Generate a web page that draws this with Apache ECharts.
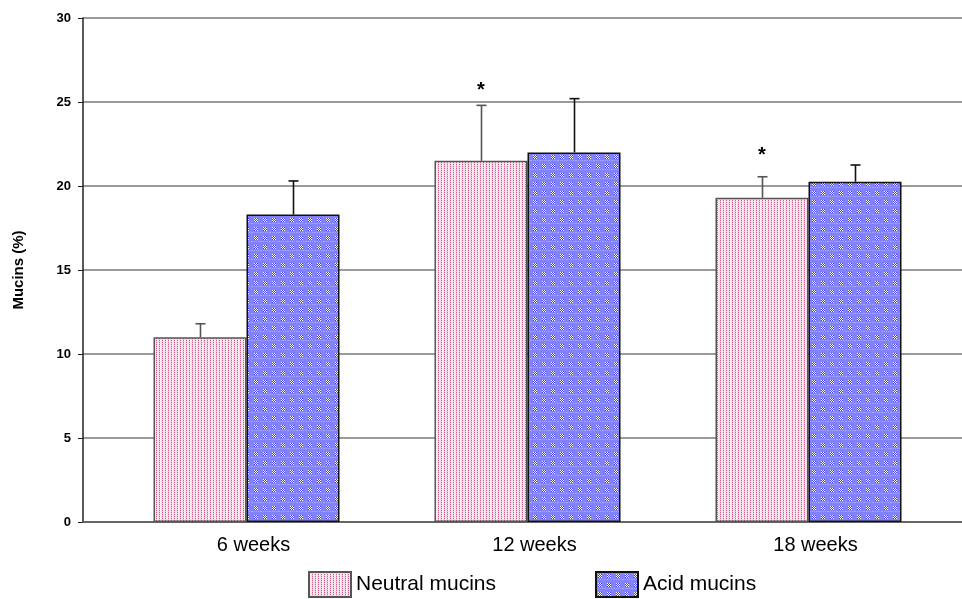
<!DOCTYPE html>
<html>
<head>
<meta charset="utf-8">
<script src="https://cdn.jsdelivr.net/npm/echarts@6/dist/echarts.min.js"></script>
<style>html,body{margin:0;padding:0;background:#fff}#c{width:962px;height:599px}</style>
</head>
<body>
<div id="c"></div>
<script>
const categories = ['6 weeks', '12 weeks', '18 weeks'];
const neutralMucins = [11.0, 21.5, 19.3];
const neutralErr = [0.8, 3.3, 1.25];
const acidMucins = [18.3, 22.0, 20.25];
const acidErr = [2.0, 3.2, 1.0];
const asteriskAt = [null, 25.7, 21.8];
const yTicks = [0, 5, 10, 15, 20, 25, 30];

function makePattern(w, h, draw) {
  const c = document.createElement('canvas');
  c.width = w; c.height = h;
  const ctx = c.getContext('2d');
  draw(ctx);
  return { image: c, repeat: 'repeat' };
}
const pinkPattern = makePattern(3, 2, ctx => {
  ctx.fillStyle = '#f9ecf2'; ctx.fillRect(0, 0, 3, 2);
  ctx.fillStyle = '#cc5a8a'; ctx.fillRect(0, 0, 1, 1);
  ctx.fillStyle = '#efcadb'; ctx.fillRect(0, 1, 1, 1);
  ctx.fillStyle = '#f3d8e4'; ctx.fillRect(2, 1, 1, 1);
});
const bluePattern = makePattern(9, 9, ctx => {
  ctx.fillStyle = '#8282ff'; ctx.fillRect(0, 0, 9, 9);
  for (let x = 0; x < 4; x++) for (let y = 0; y < 4; y++) {
    ctx.fillStyle = ((x + y) % 2 === 0) ? '#ffffff' : '#3a3aff';
    ctx.fillRect(x + 2, y + 2, 1, 1);
  }
  for (let x = 0; x < 9; x += 2) {
    ctx.fillStyle = '#a8a8ff'; ctx.fillRect(x, 7, 1, 1);
  }
});

const GAP = 0.338;
function errorSeries(values, errs, sign, color) {
  return {
    type: 'custom', xAxisIndex: 0, yAxisIndex: 0, z: 5,
    data: values.map((v, i) => [i, v, errs[i]]),
    encode: { x: 0, y: 1 },
    renderItem: function (params, api) {
      const idx = api.value(0), v = api.value(1), e = api.value(2);
      const p0 = api.coord([idx, v]);
      const p1 = api.coord([idx, v + e]);
      const band = api.size([1, 0])[0];
      const bw = band * (1 - GAP) / 2;
      const x = Math.round(p0[0] + sign * bw / 2) + 0.5;
      const st = { stroke: color, lineWidth: 1.6 };
      return { type: 'group', children: [
        { type: 'line', shape: { x1: x, y1: p0[1], x2: x, y2: p1[1] }, style: st },
        { type: 'line', shape: { x1: x - 5, y1: p1[1], x2: x + 5, y2: p1[1] }, style: st }
      ]};
    }
  };
}

const chart = echarts.init(document.getElementById('c'));
chart.setOption({
  animation: false,
  backgroundColor: '#ffffff',
  grid: [
    { left: 106, right: 13, top: 18, bottom: 77 },
    { left: 83, right: 0, top: 18, bottom: 77 }
  ],
  xAxis: [
    { gridIndex: 0, type: 'category', data: categories,
      axisLine: { show: false }, axisTick: { show: false },
      axisLabel: { color: '#000', fontSize: 20, fontFamily: 'Liberation Sans', margin: 13, padding: [0, 0, 0, 14] } },
    { gridIndex: 1, type: 'category', data: [''],
      axisLine: { show: true, lineStyle: { color: '#666', width: 2 } },
      axisTick: { show: false }, axisLabel: { show: false } }
  ],
  yAxis: [
    { gridIndex: 0, type: 'value', min: 0, max: 30, interval: 5, show: false },
    { gridIndex: 1, type: 'value', min: 0, max: 30, interval: 5,
      name: 'Mucins (%)', nameLocation: 'middle', nameGap: 57, nameRotate: 90,
      nameTextStyle: { color: '#000', fontSize: 15, fontWeight: 'bold', fontFamily: 'Liberation Sans' },
      axisLine: { show: true, lineStyle: { color: '#222', width: 1.5 } },
      axisTick: { show: true, inside: false, length: 5, lineStyle: { color: '#222' } },
      axisLabel: { color: '#000', fontSize: 13, fontWeight: 'bold', fontFamily: 'Liberation Sans', margin: 12,
        formatter: v => yTicks.includes(v) ? String(v) : '' },
      splitLine: { show: true, lineStyle: { color: '#7a7a7a', width: 1.5 } } }
  ],
  legend: [
    { data: ['Neutral mucins'], left: 308, top: 571, itemWidth: 42, itemHeight: 25, icon: 'rect',
      textStyle: { color: '#000', fontSize: 21, fontFamily: 'Liberation Sans' }, padding: 0, itemGap: 0 },
    { data: ['Acid mucins'], left: 595, top: 571, itemWidth: 42, itemHeight: 25, icon: 'rect',
      textStyle: { color: '#000', fontSize: 21, fontFamily: 'Liberation Sans' }, padding: 0, itemGap: 0 }
  ],
  series: [
    { name: 'Neutral mucins', type: 'bar', xAxisIndex: 0, yAxisIndex: 0, data: neutralMucins,
      barCategoryGap: (GAP * 100) + '%', barGap: '0%',
      itemStyle: { color: pinkPattern, borderColor: '#555', borderWidth: 1.5 } },
    { name: 'Acid mucins', type: 'bar', xAxisIndex: 0, yAxisIndex: 0, data: acidMucins,
      barCategoryGap: (GAP * 100) + '%', barGap: '0%',
      itemStyle: { color: bluePattern, borderColor: '#111', borderWidth: 1.5 } },
    errorSeries(neutralMucins, neutralErr, -1, '#555'),
    errorSeries(acidMucins, acidErr, 1, '#111'),
    { type: 'custom', xAxisIndex: 0, yAxisIndex: 0, z: 6,
      data: asteriskAt.map((v, i) => [i, v]).filter(d => d[1] !== null),
      encode: { x: 0, y: 1 },
      renderItem: function (params, api) {
        const p = api.coord([api.value(0), api.value(1)]);
        const band = api.size([1, 0])[0];
        const bw = band * (1 - GAP) / 2;
        return { type: 'text', x: p[0] - bw / 2, y: p[1],
          style: { text: '*', fill: '#000', font: 'bold 20px "Liberation Sans"', textAlign: 'center', textVerticalAlign: 'middle' } };
      }
    }
  ]
});
</script>
</body>
</html>
